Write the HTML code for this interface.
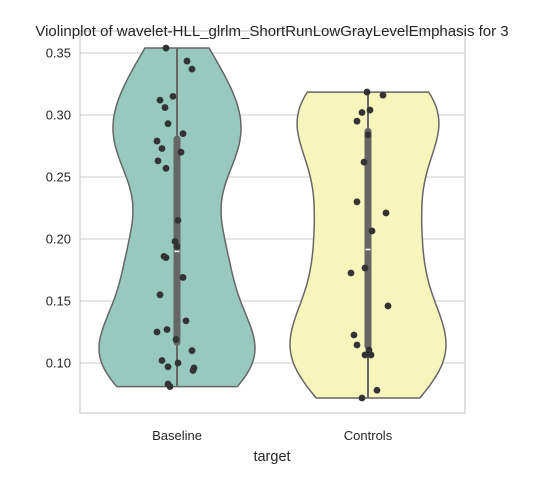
<!DOCTYPE html>
<html><head><meta charset="utf-8"><style>
body{margin:0;background:#fff;}
svg text{font-family:"Liberation Sans",Arial,sans-serif;fill:#262626;}
</style></head><body>
<svg id="chart" width="544" height="473" xmlns="http://www.w3.org/2000/svg"></svg>
<script>
const categories=["Baseline","Controls"];
const baselineValues=[0.354,0.3435,0.337,0.315,0.312,0.306,0.293,0.285,0.279,0.273,0.270,0.263,0.257,0.215,0.198,0.194,0.186,0.185,0.169,0.155,0.134,0.125,0.127,0.119,0.110,0.102,0.097,0.100,0.096,0.094,0.083,0.081];
const baselineJitter=[-11,10,15,-4,-17,-12,-9,6,-20,-15,4,-19,-11,1,-2,0,-13,-11,6,-17,9,-20,-10,-1,15,-15,-9,1,17,16,-9,-7];
const controlsValues=[0.3185,0.316,0.302,0.304,0.295,0.284,0.262,0.230,0.221,0.2065,0.1766,0.1726,0.146,0.1226,0.1145,0.1105,0.1065,0.1065,0.078,0.0718];
const controlsJitter=[-1,15,-6,2,-11,0,-4,-11,18,4,-3,-17,20,-14,-11,1,-3,3,9,-6];
const yTicks=[0.10,0.15,0.20,0.25,0.30,0.35];

const svg=document.getElementById('chart');
const NS='http://www.w3.org/2000/svg';
function mk(tag,attrs,parent){const e=document.createElementNS(NS,tag);for(const k in attrs)e.setAttribute(k,attrs[k]);(parent||svg).appendChild(e);return e;}
const L=80,R=465,T=31,B=413;
const y=v=>363-(v-0.10)*1240;
const xc=i=>177+i*191;

for(const t of yTicks){
  const g=mk('line',{x1:L,x2:R,y1:y(t),y2:y(t),stroke:'#cccccc','stroke-width':1});
  
  
  const tx=mk('text',{x:L-9,y:y(t)+4.5,'text-anchor':'end','font-size':13});
  tx.textContent=t.toFixed(2);
  
  
}
const fills=['#97c9bf','#f6f6bc'];
const series=[[baselineValues,baselineJitter],[controlsValues,controlsJitter]];
function quant(s,q){const p=(s.length-1)*q,lo=Math.floor(p),hi=Math.ceil(p);return s[lo]+(s[hi]-s[lo])*(p-lo);}
series.forEach(([vals,jit],i)=>{
  const n=vals.length,mean=vals.reduce((a,b)=>a+b,0)/n;
  const sd=Math.sqrt(vals.reduce((a,b)=>a+(b-mean)**2,0)/(n-1));
  const bw=sd*Math.pow(n,-0.2)*0.75;
  const mn=Math.min(...vals),mx=Math.max(...vals);
  const pts=[];let maxd=0;
  for(let k=0;k<=80;k++){const v=mn+(mx-mn)*k/80;let d=0;for(const a of vals)d+=Math.exp(-0.5*((v-a)/bw)**2);pts.push([v,d]);if(d>maxd)maxd=d;}
  const W=78,cx=xc(i);
  let p='M'+pts.map(([v,d])=>(cx+d/maxd*W).toFixed(1)+','+y(v).toFixed(1)).join('L');
  p+='L'+pts.slice().reverse().map(([v,d])=>(cx-d/maxd*W).toFixed(1)+','+y(v).toFixed(1)).join('L')+'Z';
  const vp=mk('path',{d:p,fill:fills[i],stroke:'#666666','stroke-width':1.5});
  
  
  const s=vals.slice().sort((a,b)=>a-b);
  const wl=mk('line',{x1:cx,x2:cx,y1:y(mn),y2:y(mx),stroke:'#666666','stroke-width':2});
  
  
  const bx=mk('line',{x1:cx,x2:cx,y1:y(quant(s,0.25)),y2:y(quant(s,0.75)),stroke:'#666666','stroke-width':7,'stroke-linecap':'round'});
  
  
  const md=mk('line',{x1:cx-2.5,x2:cx+2.5,y1:y(quant(s,0.5)),y2:y(quant(s,0.5)),stroke:'#ffffff','stroke-width':1.5});
  
  
  vals.forEach((v,j)=>{
    const c=mk('circle',{cx:cx+jit[j],cy:y(v),r:3.4,fill:'#333333'});
    
    
  });
  const xl=mk('text',{x:cx,y:440,'text-anchor':'middle','font-size':13});
  xl.textContent=categories[i];
  
  
});
const fr=mk('rect',{x:L,y:T,width:R-L,height:B-T,fill:'none',stroke:'#cccccc','stroke-width':1.2});


const ti=mk('text',{x:272,y:36,'text-anchor':'middle','font-size':15});
ti.textContent='Violinplot of wavelet-HLL_glrlm_ShortRunLowGrayLevelEmphasis for 3';


const xt=mk('text',{x:272,y:461,'text-anchor':'middle','font-size':14.5});
xt.textContent='target';


</script>
</body></html>
